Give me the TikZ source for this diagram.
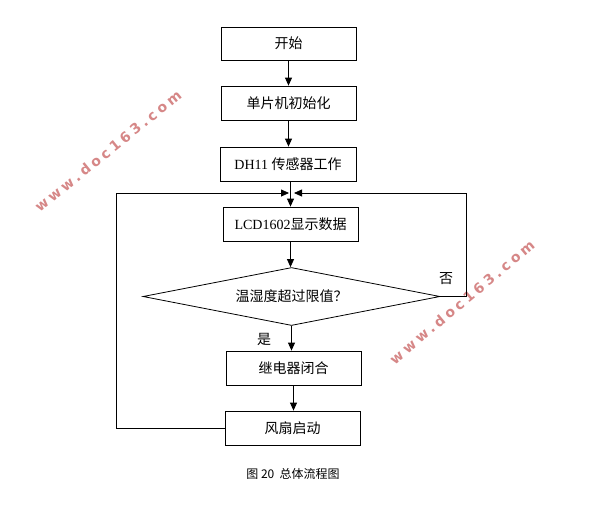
\documentclass[tikz,border=0pt]{standalone}
\usepackage{fontspec}
\setmainfont{Liberation Serif}
\newfontfamily\cjk{Noto Sans CJK SC}
\newfontfamily\wmfont[LetterSpace=25]{DejaVu Sans Bold}
\usetikzlibrary{arrows.meta,shapes.geometric}
\definecolor{wmred}{RGB}{214,135,135}
\begin{document}
\begin{tikzpicture}[x=1pt,y=-1pt,
  every node/.style={font=\fontsize{14pt}{16pt}\selectfont},
  stepbox/.style={draw,line width=0.8pt,minimum width=135pt,minimum height=34pt,inner sep=0pt},
  decision/.style={draw,line width=0.8pt,diamond,aspect=5.12,minimum width=297pt,minimum height=58pt,inner sep=0pt},
  arr/.style={draw,line width=0.8pt,-{Triangle[length=8pt,width=7pt]}},
  wm/.style={text=wmred,font=\wmfont\fontsize{14pt}{16pt}\selectfont,inner sep=0pt},
  lbl/.style={font=\cjk\fontsize{14pt}{16pt}\selectfont,inner sep=0pt}]
\useasboundingbox (0,0) rectangle (596,528);
\fill[white] (0,0) rectangle (596,528);

% watermarks
\node[wm,rotate=39] (wm1) at (108,151) {www.doc163.com};
\node[wm,rotate=40] (wm2) at (462,302) {www.doc163.com};

\node[stepbox,minimum height=33pt] (b1) at (288.5,43.5) {\cjk 开始};
\node[stepbox] (b2) at (288.5,103) {\cjk 单片机初始化};
\node[stepbox,minimum width=136pt] (b3) at (288,164) {DH11 {\cjk 传感器工作}};
\node[stepbox] (b4) at (290.5,224) {LCD1602{\cjk 显示数据}};
\node[decision] (d) at (291.5,296.5) {\cjk 温湿度超过限值？};
\node[stepbox] (b5) at (293.5,368) {\cjk 继电器闭合};
\node[stepbox] (b6) at (292.5,428) {\cjk 风扇启动};

\node[lbl] (no) at (446,279) {否};
\node[lbl] (yes) at (264,339) {是};

\node[font=\cjk\fontsize{12pt}{14pt}\selectfont] (cap) at (293,474) {图 20\ \ 总体流程图};

\coordinate (jl) at (289,193);
\coordinate (jr) at (294,193);

\draw[arr] (b1.south) -- (b2.north);
\draw[arr] (b2.south) -- (b3.north -| b2.south);
\draw[arr] (b3.south -| b4.north) -- (b4.north);
\draw[arr] (b4.south) -- (b4.south |- d.north);
\draw[arr] (d.south) -- (d.south |- b5.north);
\draw[arr] (b5.south) -- (b5.south |- b6.north);
\draw[arr] (b6.west) -- ++(-108,0) |- (jl);
\draw[arr] (d.east) -- ++(26,0) |- (jr);
\end{tikzpicture}
\end{document}
